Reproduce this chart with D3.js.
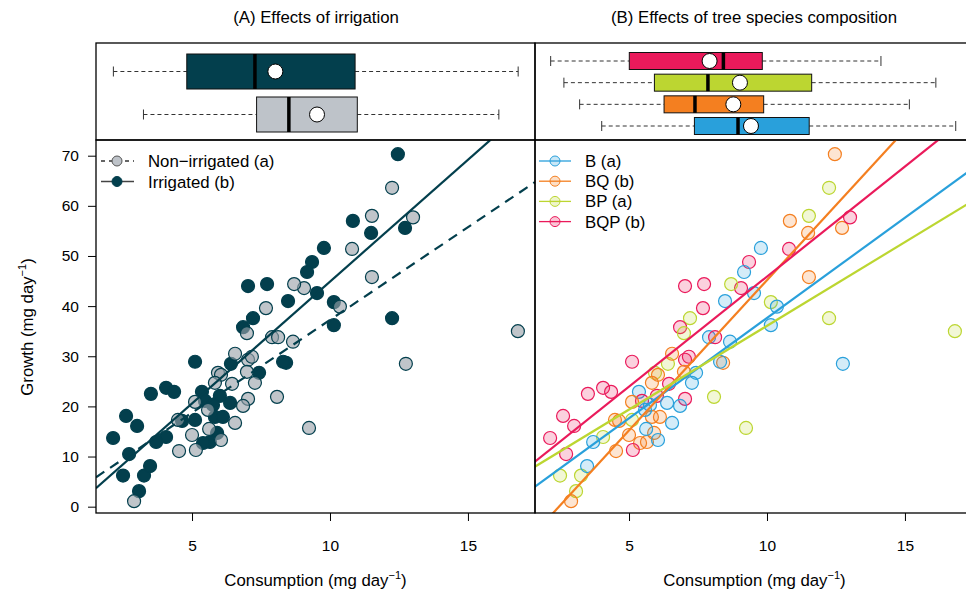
<!DOCTYPE html>
<html><head><meta charset="utf-8">
<script src="https://cdn.jsdelivr.net/npm/d3@7"></script>
<style>body{margin:0;background:#fff}svg{display:block;font-family:"Liberation Sans",Arial,sans-serif}</style>
</head><body><svg id="c" width="966" height="593"></svg>
<script>
// ---------- data ----------
const consumption = [12.46,10.83,11.49,12.72,9.78,9.35,9.17,9.53,10.14,12.25,10.14,7.03,7.72,8.48,7.21,6.85,5.11,6.41,8.41,8.30,7.43,3.51,4.06,4.35,5.36,6.01,5.47,5.76,6.38,5.83,6.12,5.11,4.64,5.91,5.65,5.40,4.06,3.70,2.61,3.01,2.14,2.72,2.50,3.26,3.48,3.08,
  12.25,11.52,13.01,10.80,9.06,11.52,10.36,16.81,12.75,9.24,8.70,7.68,6.99,7.90,8.12,8.66,6.56,7.03,7.17,5.94,6.05,6.99,7.28,6.45,5.83,8.08,7.03,6.85,5.11,5.58,4.49,6.56,5.00,5.62,6.05,4.53,5.14,2.90];
const growth = [70.3,57.0,54.6,55.6,51.6,48.8,46.8,42.6,40.8,37.6,36.2,44.0,44.4,41.0,37.6,35.8,28.9,28.5,28.7,28.9,26.7,22.5,23.7,22.9,22.9,22.1,21.1,20.3,20.7,17.9,17.9,17.3,17.1,14.7,12.9,12.7,13.9,12.9,18.1,16.1,13.7,10.5,6.2,6.2,8.1,3.1,
  63.6,58.0,57.7,51.4,43.6,45.8,39.9,35.0,28.5,15.7,44.4,39.6,34.6,33.8,33.8,32.9,30.5,29.3,29.9,26.7,26.3,26.9,24.7,24.5,24.7,21.9,21.5,20.1,20.9,19.3,17.3,16.7,14.3,15.5,13.3,11.1,11.3,1.1];
const irrigation = ["I","I","I","I","I","I","I","I","I","I","I","I","I","I","I","I","I","I","I","I","I","I","I","I","I","I","I","I","I","I","I","I","I","I","I","I","I","I","I","I","I","I","I","I","I","I",
  "N","N","N","N","N","N","N","N","N","N","N","N","N","N","N","N","N","N","N","N","N","N","N","N","N","N","N","N","N","N","N","N","N","N","N","N","N","N"];
const species = ["BQ","BQ","BQ","BQ","B","BQP","B","B","BP","BP","B","BQP","BQP","B","BP","BQP","BQP","BP","BQ","B","B","BQP","BQP","BQP","B","BQP","BQP","B","B","BQ","BQ","BP","BQ","BQ","BQ","BQ","BP","B","BQP","BQP","BQP","BQP","BP","BP","B","BP",
  "BP","BP","BQP","BQP","BQP","BQ","B","BP","B","BP","BP","BQP","BP","B","BQP","B","BQ","BQP","BQP","BP","BQ","BQ","B","BQP","BQ","BP","BQP","B","BQ","B","BQ","B","BQ","B","B","BQ","BQP","BQ"];

const irrGroups = ["Irrigated","Non-irrigated"];
const irrLabels = ["Non\u2212irrigated (a)","Irrigated (b)"];
const irrLo = [2.15,3.24], irrQ1 = [4.81,7.34], irrMed = [7.28,8.51], irrMean = [8.02,9.53], irrQ3 = [10.91,10.99], irrHi = [16.82,16.12];
const irrIntercept = [-3.72,0.24], irrSlope = [4.86,3.70];

const spGroups = ["BQP","BP","BQ","B"];
const spLegend = ["B (a)","BQ (b)","BP (a)","BQP (b)"];
const spLegendKeys = ["B","BQ","BP","BQP"];
const spLo = [2.16,2.64,3.21,4.01], spQ1 = [5.01,5.92,6.27,7.37], spMed = [8.42,7.86,7.39,8.95], spMean = [7.92,9.02,8.78,9.42], spQ3 = [9.83,11.62,9.88,11.53], spHi = [14.13,16.12,15.16,16.84];
const spIntercept = {B:-2.37, BQ:-14.74, BP:2.67, BQP:1.99};
const spSlope = {B:4.0, BQ:5.99, BP:3.34, BQP:4.39};

const xTicks = [5,10,15];
const yTicks = [0,10,20,30,40,50,60,70];

// ---------- styling ----------
const teal = "#033f4d";
const spColor = {B:"#29a0db", BQ:"#f47f20", BP:"#bcd631", BQP:"#ea1a5b"};
const font = '"Liberation Sans",Arial,sans-serif';

const svg = d3.select("#c");
const plotTop = 140, plotBot = 513, boxTop = 43;
const panels = [{x0:96,x1:535},{x0:535,x1:974}];
const y = d3.scaleLinear().domain([-1.26,73.13]).range([plotBot,plotTop]);
const xs = [d3.scaleLinear().domain([1.52,17.43]).range([96,535]),
            d3.scaleLinear().domain([1.52,17.43]).range([533,972])];

const defs = svg.append("defs");
panels.forEach((p,i)=>{
  defs.append("clipPath").attr("id","clip"+i).append("rect").attr("x",p.x0).attr("y",plotTop).attr("width",p.x1-p.x0).attr("height",plotBot-plotTop);
});

const data = consumption.map((c,i)=>({x:c,y:growth[i],irr:irrigation[i],sp:species[i]}));

// ---------- titles ----------
svg.append("text").attr("x",316).attr("y",23).attr("text-anchor","middle").attr("font-size",16.8).text("(A) Effects of irrigation");
svg.append("text").attr("x",754).attr("y",23).attr("text-anchor","middle").attr("font-size",16.8).text("(B) Effects of tree species composition");

// ---------- box plots ----------
function boxes(x, yScale, h, lo, q1, med, mean, q3, hi, fills, x0, x1){
  const g = svg.append("g");
  g.append("rect").attr("x",x0).attr("y",boxTop).attr("width",x1-x0).attr("height",plotTop-boxTop).attr("fill","none").attr("stroke","#000").attr("stroke-width",1.3);
  yScale.domain().forEach((k,i)=>{
    const cy = yScale(k);
    g.append("line").attr("x1",x(lo[i])).attr("x2",x(q1[i])).attr("y1",cy).attr("y2",cy).attr("stroke","#333").attr("stroke-dasharray","4,3");
    g.append("line").attr("x1",x(q3[i])).attr("x2",x(hi[i])).attr("y1",cy).attr("y2",cy).attr("stroke","#333").attr("stroke-dasharray","4,3");
    [lo[i],hi[i]].forEach(v=>g.append("line").attr("x1",x(v)).attr("x2",x(v)).attr("y1",cy-5).attr("y2",cy+5).attr("stroke","#333"));
    g.append("rect").attr("x",x(q1[i])).attr("y",cy-h/2).attr("width",x(q3[i])-x(q1[i])).attr("height",h).attr("fill",fills[i]).attr("stroke","#111").attr("stroke-width",1);
    g.append("line").attr("x1",x(med[i])).attr("x2",x(med[i])).attr("y1",cy-h/2).attr("y2",cy+h/2).attr("stroke","#000").attr("stroke-width",3.5);
    g.append("circle").attr("cx",x(mean[i])).attr("cy",cy).attr("r",7.5).attr("fill","#fff").attr("stroke","#000").attr("stroke-width",1);
  });
}
boxes(xs[0], d3.scalePoint().domain(irrGroups).range([71.5,114.5]), 35, irrLo,irrQ1,irrMed,irrMean,irrQ3,irrHi,[teal,"#bec3c9"],96,535);
boxes(xs[1], d3.scalePoint().domain(spGroups).range([61,126]), 17, spLo,spQ1,spMed,spMean,spQ3,spHi,spGroups.map(k=>spColor[k]),535,974);

// ---------- panel A scatter ----------
const gA = svg.append("g");
const ptsA = gA.append("g").attr("clip-path","url(#clip0)");
ptsA.selectAll("circle").data(data).join("circle")
  .attr("cx",d=>xs[0](d.x)).attr("cy",d=>y(d.y)).attr("r",6.5)
  .attr("fill",d=>d.irr==="I"?teal:"#99a2aa").attr("fill-opacity",d=>d.irr==="I"?1:0.62)
  .attr("stroke",teal).attr("stroke-width",1.2);
const linesA = gA.append("g").attr("clip-path","url(#clip0)");
irrGroups.forEach((k,i)=>{
  const d0 = xs[0].domain();
  linesA.append("line").attr("x1",xs[0](d0[0])).attr("x2",xs[0](d0[1]))
    .attr("y1",y(irrIntercept[i]+irrSlope[i]*d0[0])).attr("y2",y(irrIntercept[i]+irrSlope[i]*d0[1]))
    .attr("stroke",teal).attr("stroke-width",2.2).attr("stroke-dasharray",i===1?"10,7":null);
});

// ---------- panel B scatter ----------
const gB = svg.append("g");
const ptsB = gB.append("g").attr("clip-path","url(#clip1)");
ptsB.selectAll("circle").data(data).join("circle")
  .attr("cx",d=>xs[1](d.x)).attr("cy",d=>y(d.y)).attr("r",6.5)
  .attr("fill",d=>spColor[d.sp]).attr("fill-opacity",0.2)
  .attr("stroke",d=>spColor[d.sp]).attr("stroke-width",1.2);
const linesB = gB.append("g").attr("clip-path","url(#clip1)");
spLegendKeys.forEach(k=>{
  const d0 = [1.4,17.6];
  linesB.append("line").attr("x1",xs[1](d0[0])).attr("x2",xs[1](d0[1]))
    .attr("y1",y(spIntercept[k]+spSlope[k]*d0[0])).attr("y2",y(spIntercept[k]+spSlope[k]*d0[1]))
    .attr("stroke",spColor[k]).attr("stroke-width",2.2);
});

// ---------- frames & axes ----------
panels.forEach((p,i)=>{
  svg.append("rect").attr("x",p.x0).attr("y",plotTop).attr("width",p.x1-p.x0).attr("height",plotBot-plotTop).attr("fill","none").attr("stroke","#000").attr("stroke-width",1.3);
  const ax = svg.append("g").attr("transform",`translate(0,${plotBot})`)
    .call(d3.axisBottom(xs[i]).tickValues(xTicks).tickSize(8).tickPadding(19).tickFormat(d3.format("d")));
  ax.select(".domain").remove();
  ax.selectAll("text").attr("font-size",15.5).attr("font-family",font).attr("fill","#000");
  const t = svg.append("text").attr("x",(p.x0+p.x1)/2).attr("y",586).attr("text-anchor","middle").attr("font-size",16.8);
  t.append("tspan").text("Consumption (mg day");
  t.append("tspan").attr("dy",-7).attr("font-size",11).text("\u22121");
  t.append("tspan").attr("dy",7).text(")");
});
const ay = svg.append("g").attr("transform","translate(96,0)")
  .call(d3.axisLeft(y).tickValues(yTicks).tickSize(8).tickPadding(9));
ay.select(".domain").remove();
ay.selectAll("text").attr("font-size",15.5).attr("font-family",font).attr("fill","#000");
const yl = svg.append("text").attr("transform","translate(33,327) rotate(-90)").attr("text-anchor","middle").attr("font-size",16.8);
yl.append("tspan").text("Growth (mg day");
yl.append("tspan").attr("dy",-7).attr("font-size",11).text("\u22121");
yl.append("tspan").attr("dy",7).text(")");

// ---------- legends ----------
const legA = svg.append("g");
irrLabels.forEach((lab,i)=>{
  const ly = 161 + i*20.5;
  legA.append("line").attr("x1",101).attr("x2",134).attr("y1",ly).attr("y2",ly).attr("stroke",i===0?"#333":"#444").attr("stroke-width",1.3).attr("stroke-dasharray",i===0?"4,4":null);
  legA.append("circle").attr("cx",117).attr("cy",ly).attr("r",5).attr("fill",i===0?"#bec3c9":teal).attr("stroke",i===0?"#555":teal);
  legA.append("text").attr("x",148).attr("y",ly+6).attr("font-size",16.8).text(lab);
});
const legB = svg.append("g");
spLegend.forEach((lab,i)=>{
  const k = spLegendKeys[i];
  const ly = 161 + i*20.2;
  legB.append("line").attr("x1",539).attr("x2",571).attr("y1",ly).attr("y2",ly).attr("stroke",spColor[k]).attr("stroke-width",1.3);
  legB.append("circle").attr("cx",555).attr("cy",ly).attr("r",5).attr("fill",spColor[k]).attr("fill-opacity",0.25).attr("stroke",spColor[k]);
  legB.append("text").attr("x",585).attr("y",ly+6).attr("font-size",16.8).text(lab);
});
</script></body></html>
